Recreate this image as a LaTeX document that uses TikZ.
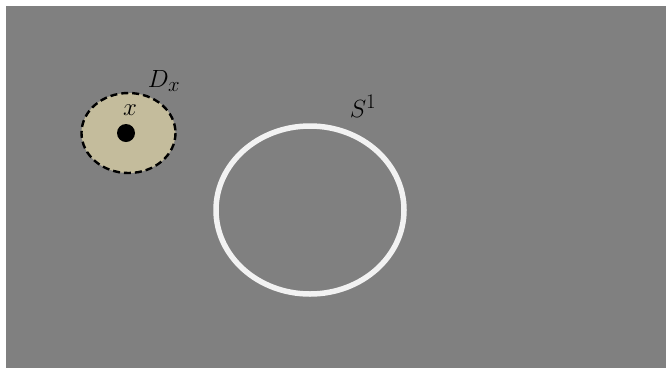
\documentclass[tikz,border=0pt]{standalone}
\usepackage{fontspec}
\definecolor{bggray}{RGB}{128,128,128}
\definecolor{diskfill}{RGB}{196,188,156}
\definecolor{ringwhite}{RGB}{242,242,242}
\begin{document}
\begin{tikzpicture}[x=1pt,y=-1pt,
  lbl/.style={font=\fontsize{32}{35}\selectfont, inner sep=0pt},
  diskD/.style={draw=black, dash pattern=on 7pt off 4pt, line width=2.4pt, fill=diskfill},
  ringS/.style={draw=ringwhite, line width=5.5pt}]
\useasboundingbox (0,0) rectangle (666,368);
\fill[bggray] (6,6) rectangle (666,368);
\draw[diskD] (128.5,133) ellipse [x radius=47, y radius=40];
\fill[black] (126,133) circle [radius=9];
\draw[ringS] (310,210) ellipse [x radius=94, y radius=84];
\node[lbl] (xl) at (130,110) {$x$};
\node[lbl] (dl) at (164,81) {$D_x$};
\node[lbl] (sl) at (363,106) {$S^1$};
\end{tikzpicture}
\end{document}
